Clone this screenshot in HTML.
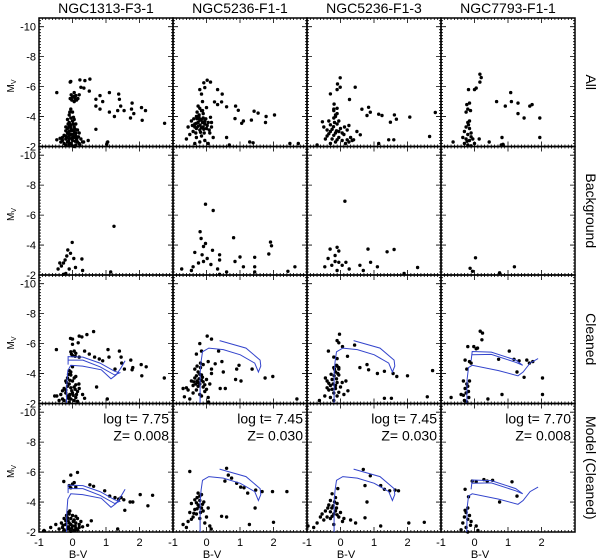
<!DOCTYPE html>
<html><head><meta charset="utf-8"><style>
html,body{margin:0;padding:0;background:#fff;}
svg{display:block;font-family:"Liberation Sans",sans-serif;}
</style></head><body>
<svg id="chart" width="600" height="559" viewBox="0 0 600 559" xmlns="http://www.w3.org/2000/svg"></svg>
<script>
const columnTitles = ["NGC1313-F3-1","NGC5236-F1-1","NGC5236-F1-3","NGC7793-F1-1"];
const rowLabels = ["All","Background","Cleaned","Model (Cleaned)"];
const xTicks = [-1,0,1,2];
const yTicks = [-10,-8,-6,-4,-2];
const modelAges = ["7.75","7.45","7.45","7.70"];
const modelZ = ["0.008","0.030","0.030","0.008"];

// Row 1: All
const all0 = [[-0.1,-2.1],[-0.05,-2.2],[-0.15,-2.3],[0,-2.4],[-0.1,-2.5],[0.05,-2.6],[-0.2,-2.7],[-0.05,-2.8],[0.1,-2.9],[-0.1,-3.0],[0,-3.1],[-0.15,-3.2],[0.05,-3.3],[-0.05,-3.4],[-0.1,-3.6],[0,-3.7],[-0.05,-3.9],[-0.1,-4.1],[0,-4.3],[-0.05,-4.5],[-0.1,-2.2],[0.15,-2.3],[0.2,-2.2],[0.25,-2.5],[-0.3,-2.4],[-0.25,-2.2],[-0.35,-2.3],[0.3,-2.3],[0.1,-2.1],[-0.2,-2.1],[0,-2.05],[0.05,-3.0],[-0.15,-2.9],[0.1,-3.5],[-0.2,-3.3],[0,-2.6],[-0.1,-2.7],[0.1,-2.7],[0.15,-3.1],[-0.05,-3.2],[0.05,-2.0],[-0.2,-2.5],[0.12,-2.45],[-0.08,-3.5],[-0.15,-3.8],[0.05,-3.8],[-0.47,-2.45],[-0.37,-2.55],[0.33,-2.3],[0.47,-2.4],
[-0.12,-2.35],[-0.02,-2.55],[0.08,-2.35],[-0.18,-2.6],[0.02,-2.8],[-0.12,-2.85],[0.13,-2.55],[-0.25,-2.75],[0.18,-2.65],[-0.03,-3.05],[-0.2,-3.05],[0.08,-3.15],[-0.1,-3.35],[0.02,-3.5],[-0.13,-3.5],[0.03,-3.95],[-0.08,-4.3],[0.2,-2.9],[-0.3,-2.6],[0.22,-2.1],
[-0.07,-6.3],[0.22,-6.45],[0.52,-6.5],[0.37,-6.4],[0.25,-5.95],[0.34,-5.9],[0.5,-5.7],[-0.07,-5.2],[0,-5.3],[0.05,-5.0],[0.1,-5.4],[0.16,-5.2],[0.05,-5.35],[-0.02,-5.1],[0.12,-5.1],[-0.47,-5.6],[-0.05,-6.35],[0.05,-5.6],[0.2,-5.45],[0.08,-5.2],[-0.04,-5.45],
[0.82,-5.4],[0.7,-5.15],[0.9,-5.0],[1.1,-5.6],[1.38,-5.5],[1.4,-5.15],[0.7,-4.7],[0.82,-4.5],[1.1,-4.3],[1.25,-4.0],[1.35,-4.4],[1.44,-4.7],[1.54,-4.4],[1.78,-4.9],[1.76,-4.5],[1.83,-4.2],[1.73,-3.9],[2.06,-4.6],[2.18,-4.4],[2.08,-3.75],[2.75,-3.55],[0.7,-3.15],[1.05,-2.3],[1.02,-2.15]];
const all1 = [[-0.19,-3.43],[-0.1,-3.3],[-0.25,-3.6],[-0.3,-3.2],[-0.15,-3.8],[-0.05,-3.5],[-0.2,-3.1],[-0.35,-3.5],[-0.1,-3.9],[-0.22,-4.1],[-0.15,-4.4],[-0.25,-4.7],[-0.12,-5.0],[0,-3.2],[0.05,-3.6],[-0.4,-3.0],[-0.5,-2.8],[-0.3,-2.6],[-0.15,-2.7],[0.1,-2.9],[0.15,-3.3],[-0.45,-3.7],[-0.55,-3.3],[-0.05,-2.4],[0.05,-2.2],[-0.2,-2.3],[-0.6,-2.5],[0.2,-2.6],[-0.1,-4.2],[0,-4.6],[-0.3,-4.0],[-0.35,-2.2],[0.12,-3.95],[-0.07,-2.9],[-0.28,-3.85],
[-0.15,-3.25],[-0.25,-3.35],[-0.12,-3.6],[-0.3,-3.55],[-0.05,-3.7],[-0.2,-3.75],[-0.35,-3.3],[-0.08,-3.15],[0.02,-3.4],[-0.18,-2.95],[-0.38,-3.85],[-0.22,-3.95],[0.08,-3.1],[-0.42,-3.4],[-0.12,-4.4],[-0.28,-4.3],[-0.2,-4.55],[-0.02,-3.85],[-0.32,-2.9],[0.15,-3.6],
[0.02,-6.43],[0.12,-6.3],[-0.08,-6.25],[-0.05,-5.93],[-0.2,-5.8],[-0.15,-5.5],[0.33,-5.8],[0.47,-5.5],[0.24,-4.98],[0.33,-4.8],[0.45,-4.98],[0.6,-4.65],[0.87,-4.7],[0.95,-4.42],[0.85,-3.86],[1.1,-3.7],[1.05,-3.55],[1.34,-3.76],[1.42,-4.36],[1.54,-4.23],[1.78,-4.0],[2.03,-4.1],[1.76,-3.6],[2.49,-2.2],[2.74,-2.2],[0.68,-2.1],[0.6,-2.6],[1.29,-2.3],[1.39,-2.25]];
const all2 = [[-0.21,-3.32],[-0.3,-3.0],[-0.1,-3.5],[-0.35,-3.7],[-0.15,-2.9],[0,-3.2],[-0.4,-2.7],[-0.25,-2.5],[0.1,-2.8],[0.2,-3.1],[-0.05,-2.6],[-0.5,-3.3],[-0.54,-3.65],[-0.45,-2.5],[0.05,-2.4],[0.3,-2.6],[-0.2,-3.9],[-0.1,-4.2],[-0.2,-4.5],[-0.15,-2.3],[0.15,-2.2],[-0.3,-2.2],[-0.7,-2.1],[0.25,-3.4],[-0.05,-3.7],
[-0.25,-3.15],[-0.12,-3.05],[-0.3,-3.45],[-0.18,-3.6],[-0.05,-3.0],[-0.35,-2.85],[-0.2,-2.75],[0.05,-2.9],[-0.1,-2.45],[0.12,-3.3],[-0.4,-3.1],[-0.15,-4.0],[0.35,-2.4],[0.2,-2.45],
[-0.01,-6.59],[-0.09,-6.17],[-0.01,-5.96],[-0.1,-5.8],[-0.3,-5.51],[0.44,-5.96],[0.27,-5.14],[-0.19,-4.83],[-0.2,-4.4],[-0.1,-4.55],[-0.15,-4.1],[0.64,-4.49],[0.84,-4.62],[0.89,-4.29],[0.79,-4.07],[1.14,-4.16],[1.24,-4.07],[1.49,-3.62],[1.61,-4.11],[1.67,-3.82],[2.07,-3.96],[2.83,-4.27],[2.66,-2.67],[1.44,-2.45],[1.59,-2.45],[1.14,-2.2],[0.59,-2.78],[0.49,-3.0],[0.39,-2.45],[0.25,-2.3]];
const all3 = [[0.16,-6.83],[0.2,-6.6],[0.16,-6.3],[0,-5.8],[0.05,-5.9],[-0.18,-5.8],[-0.23,-4.8],[-0.15,-4.9],[-0.2,-4.5],[-0.25,-4.3],[-0.12,-4.4],[-0.2,-3.6],[-0.25,-3.3],[-0.15,-3.2],[-0.3,-3.0],[-0.2,-2.8],[-0.1,-2.9],[-0.35,-2.6],[-0.25,-2.5],[-0.15,-2.4],[-0.05,-2.5],[-0.3,-2.2],[-0.2,-2.1],[0,-2.2],[-0.1,-2.05],[-0.15,-3.7],[-0.64,-2.3],[-0.18,-3.45],[-0.1,-2.65],[-0.22,-2.35],[0.66,-5.0],[0.92,-4.7],[1.08,-5.6],[1.1,-5.0],[1.3,-4.9],[1.3,-4.2],[1.48,-3.9],[1.65,-4.7],[1.72,-4.8],[1.95,-3.9],[1.95,-2.6],[0.14,-2.5],[0.44,-2.3],[0.82,-2.6],[0.8,-2.1],[0.85,-2.15]];

// Row 2: Background
const bg0 = [[-0.43,-2.4],[-0.33,-2.6],[-0.27,-2.8],[-0.22,-3.0],[-0.17,-3.27],[-0.14,-3.67],[-0.01,-4.18],[-0.06,-3.45],[0.04,-3.1],[0.09,-2.5],[0.28,-3.07],[0.3,-2.3],[-0.27,-2.05],[1.24,-5.25],[1.14,-2.2],[-0.38,-2.8],[-0.1,-2.4],[-0.2,-2.1]];
const bg1 = [[-0.03,-6.73],[0.2,-6.31],[-0.19,-4.89],[-0.16,-4.44],[-0.35,-3.51],[-0.09,-3.9],[-0.03,-4.1],[-0.13,-3.35],[0.02,-3.1],[-0.09,-2.9],[-0.24,-2.8],[0.18,-3.65],[0.13,-2.7],[0.39,-3.0],[0.39,-3.35],[0.33,-2.4],[-0.4,-2.55],[-0.45,-2.3],[-0.74,-2.4],[0.81,-4.49],[1.44,-3.18],[1.0,-3.2],[0.85,-2.9],[1.1,-2.55],[1.44,-2.55],[1.91,-4.2],[1.94,-3.95],[1.86,-3.4],[2.64,-2.55],[2.43,-2.25],[1.44,-2.2],[0.6,-2.2],[0.39,-2.05]];
const bg2 = [[0.13,-6.93],[-0.31,-3.73],[-0.1,-3.85],[-0.05,-3.6],[-0.16,-3.3],[-0.37,-3.1],[-0.26,-2.65],[-0.47,-2.55],[-0.05,-2.85],[0.05,-2.65],[0.16,-2.85],[-0.1,-2.3],[0.26,-2.4],[-0.16,-2.9],[0.82,-3.73],[0.9,-2.85],[1.6,-3.7],[1.39,-3.55],[1.1,-2.55],[2.3,-2.5],[0.58,-2.65],[0.68,-2.3],[1.9,-2.1]];
const bg3 = [[0.03,-3.15],[-0.13,-2.45],[-0.06,-2.25],[1.19,-2.55],[0.75,-2.15]];

// Row 3: Cleaned
const cl0 = [[-0.1,-2.1],[-0.05,-2.3],[-0.15,-2.5],[0,-2.7],[-0.2,-2.9],[0.05,-3.1],[-0.1,-3.3],[0,-3.5],[-0.15,-3.7],[-0.05,-3.9],[-0.1,-4.2],[0,-4.45],[-0.3,-2.3],[-0.35,-2.6],[-0.25,-3.0],[0.1,-2.4],[0.15,-2.8],[0.19,-3.3],[-0.4,-2.2],[-0.53,-2.5],[0.05,-2.2],[-0.2,-3.5],[0.1,-3.8],[-0.08,-2.6],[0.3,-2.6],[0.36,-2.35],[-0.47,-2.5],
[-0.12,-2.35],[0.02,-2.55],[-0.2,-2.7],[0.08,-2.95],[-0.05,-3.05],[-0.15,-3.15],[0.1,-3.25],[-0.08,-3.55],[0.05,-3.7],[-0.12,-3.95],[-0.25,-2.2],[0.15,-2.15],[-0.02,-2.85],[-0.1,-2.45],[0.12,-2.6],[-0.3,-2.85],[-0.05,-4.1],[0.2,-3.0],[-0.18,-3.4],
[-0.06,-6.35],[0,-6.3],[0.2,-6.5],[0.28,-6.45],[0.43,-6.6],[0.63,-6.8],[0.17,-6.05],[0,-5.95],[-0.05,-5.45],[0,-5.2],[0.1,-5.35],[0.2,-5.1],[0.05,-5.5],[-0.48,-5.6],[0.36,-5.5],[0.5,-5.3],[0.66,-5.1],[0.8,-4.97],[0.9,-4.85],[1.06,-5.6],[1.09,-5.1],[1.27,-4.3],[1.4,-5.5],[1.45,-5.1],[1.47,-4.7],[1.55,-4.3],[1.74,-4.9],[1.8,-4.4],[1.78,-4.25],[2.05,-4.6],[2.2,-4.45],[2.07,-3.85],[2.74,-3.7],[0.72,-3.1],[1.04,-2.3],[0.08,-5.15],[-0.03,-5.3]];
const cl1 = [[-0.28,-3.5],[-0.2,-3.3],[-0.35,-3.7],[-0.15,-3.9],[-0.4,-3.2],[-0.1,-3.1],[-0.3,-2.9],[-0.45,-3.5],[-0.25,-4.1],[-0.18,-4.4],[0,-3.6],[0.1,-3.3],[-0.05,-2.8],[-0.2,-2.6],[-0.55,-2.9],[-0.66,-2.45],[-0.5,-2.3],[0.05,-2.4],[0.06,-2.1],[-0.7,-3.0],[-0.6,-3.05],[0.15,-4.0],[-0.1,-4.6],[-0.35,-4.3],
[-0.25,-3.4],[-0.15,-3.55],[-0.32,-3.3],[-0.22,-3.65],[-0.1,-3.45],[-0.3,-3.85],[-0.2,-3.95],[-0.38,-3.45],[-0.12,-3.75],[-0.25,-3.15],[-0.05,-3.25],[-0.28,-4.5],[-0.18,-4.7],[-0.4,-2.7],[-0.15,-2.5],[0.0,-2.95],
[0.02,-6.5],[0.15,-6.3],[-0.2,-6.0],[-0.3,-5.3],[-0.15,-5.5],[0.36,-5.5],[0.05,-4.8],[0.26,-4.65],[0.15,-4.3],[0.46,-4.8],[0.5,-4.1],[0.97,-4.55],[0.9,-4.3],[0.41,-3.0],[0.56,-3.0],[0.87,-3.6],[1.03,-3.5],[1.36,-4.3],[1.75,-3.7],[1.98,-3.8],[2.7,-2.3]];
const cl2 = [[-0.19,-3.85],[-0.25,-3.6],[-0.1,-3.4],[-0.3,-3.2],[-0.15,-3.0],[-0.4,-3.5],[-0.05,-3.9],[-0.35,-2.9],[-0.2,-2.7],[0,-3.1],[-0.45,-3.7],[-0.1,-2.5],[-0.3,-2.4],[0.1,-2.6],[-0.15,-4.1],[-0.05,-4.3],[0.16,-3.5],[0.22,-2.85],[-0.47,-2.5],[-0.63,-2.2],[-0.2,-2.2],
[-0.22,-3.3],[-0.12,-3.65],[-0.28,-3.95],[-0.18,-4.3],[-0.08,-4.0],[-0.35,-3.35],[-0.25,-2.95],[-0.05,-2.75],[-0.15,-3.2],[-0.4,-3.05],[-0.12,-4.55],[0.05,-3.4],
[-0.03,-6.63],[-0.1,-6.2],[-0.05,-6.05],[-0.36,-5.5],[-0.2,-5.1],[-0.1,-5.0],[-0.1,-4.5],[-0.2,-4.4],[-0.05,-4.4],[0.06,-5.8],[0.42,-5.9],[0.21,-5.15],[0.58,-4.4],[0.79,-4.6],[0.84,-4.25],[1.1,-4.0],[1.31,-4.15],[1.57,-4.0],[1.68,-3.8],[2.0,-3.85],[1.52,-2.35],[1.31,-2.35],[2.59,-2.45],[2.75,-4.2]];
const cl3 = [[0.17,-6.83],[0.24,-6.7],[0.22,-6.25],[0.09,-5.7],[-0.02,-5.8],[-0.2,-5.8],[-0.28,-4.9],[-0.15,-4.8],[-0.23,-4.3],[-0.33,-3.5],[-0.23,-3.3],[-0.28,-3.0],[-0.33,-2.55],[-0.17,-2.4],[-0.4,-2.6],[-0.23,-2.1],[-0.7,-2.4],[-0.1,-4.7],[-0.18,-2.8],[-0.3,-2.2],[-0.2,-3.15],[-0.25,-2.7],[-0.15,-3.5],[0.05,-5.65],
[0.72,-4.95],[1.04,-5.5],[1.18,-4.95],[1.33,-4.85],[1.56,-4.9],[1.27,-4.1],[1.48,-3.75],[1.64,-4.7],[1.74,-4.8],[2.03,-3.7],[2.03,-2.6],[0.82,-2.6],[0.4,-2.3]];

// Row 4: Model (Cleaned)
const md0 = [[-0.13,-2.75],[-0.2,-2.5],[-0.05,-2.9],[-0.1,-3.2],[0,-2.4],[-0.25,-2.9],[0.1,-2.6],[-0.15,-2.2],[0.05,-2.1],[-0.3,-2.3],[0.15,-2.9],[-0.08,-3.4],[0.2,-2.3],[-0.18,-3.1],[0.25,-2.7],[-0.05,-2.05],[0.1,-3.05],[-0.33,-2.6],[-0.12,-2.35],[0.3,-2.35],[-0.85,-2.1],[-0.65,-2.3],[-0.5,-2.5],[-0.4,-2.2],[0.56,-2.75],[0.45,-2.45],[1.35,-2.2],
[-0.1,-2.6],[0.02,-2.7],[-0.2,-2.75],[0.08,-2.4],[-0.05,-2.5],[-0.15,-2.95],[0.0,-3.1],[-0.1,-2.2],[0.15,-2.15],[-0.25,-2.15],[0.2,-2.5],[-0.02,-2.25],[-0.12,-3.3],[0.05,-2.8],[-0.28,-2.45],[0.1,-2.25],
[0.15,-5.98],[-0.05,-5.8],[-0.26,-5.37],[-0.1,-5.1],[0,-5.2],[0.1,-5.0],[-0.05,-4.95],[0.05,-5.3],[0.63,-5.05],[0.52,-5.15],[0.96,-4.75],[1.11,-4.4],[1.27,-4.3],[1.38,-4.2],[1.45,-4.3],[1.53,-4.15],[1.56,-3.45],[1.72,-4.0],[1.8,-4.0],[2.02,-4.5],[2.39,-4.45],[2.25,-3.75]];
const md1 = [[-0.28,-4.3],[-0.2,-4.1],[-0.25,-3.8],[-0.15,-3.6],[-0.35,-3.5],[-0.3,-3.2],[-0.1,-3.4],[-0.4,-3.0],[-0.5,-3.3],[-0.2,-2.9],[-0.55,-2.7],[-0.7,-2.5],[-0.6,-2.3],[0,-3.0],[-0.05,-2.6],[0.1,-2.4],[-0.25,-4.6],[-0.15,-4.5],[0.14,-2.2],[-0.45,-3.9],
[-0.22,-3.7],[-0.3,-3.95],[-0.12,-3.85],[-0.38,-3.25],[-0.18,-3.3],[-0.28,-3.55],[-0.08,-4.0],[-0.35,-4.15],[-0.2,-4.4],[0.05,-3.6],[-0.45,-2.85],
[-0.5,-6.04],[0.6,-6.25],[0.65,-5.8],[0.75,-5.6],[0.55,-5.4],[0.9,-5.25],[1.02,-5.0],[1.12,-4.95],[1.23,-4.6],[1.47,-4.8],[1.66,-4.7],[1.97,-4.7],[2.4,-4.7],[1.45,-3.6],[1.28,-2.5],[2.0,-2.65],[0.45,-3.05],[0.6,-3.0]];
const md2 = [[-0.26,-3.6],[-0.15,-3.4],[-0.35,-3.8],[-0.2,-3.2],[-0.4,-3.0],[-0.1,-3.9],[-0.3,-2.9],[-0.5,-2.8],[-0.6,-3.0],[-0.7,-2.6],[-0.97,-2.4],[-0.8,-2.3],[-0.05,-3.0],[0.06,-2.7],[-0.2,-2.5],[-0.45,-3.4],[-0.3,-4.1],[-0.25,-4.55],[-0.08,-4.9],[0.1,-2.9],[0.3,-2.8],[0.45,-2.6],
[-0.22,-3.75],[-0.12,-3.6],[-0.3,-3.35],[-0.18,-4.0],[-0.38,-3.6],[-0.1,-3.15],[-0.25,-3.05],[-0.15,-4.3],[0.0,-3.3],[-0.55,-3.2],
[0.68,-6.18],[0.89,-5.75],[0.73,-5.1],[1.2,-5.1],[1.31,-4.85],[1.47,-4.75],[1.63,-4.8],[1.73,-4.75],[0.79,-4.0],[1.2,-2.4],[2.04,-2.6],[2.5,-2.65],[0.73,-2.95]];
const md3 = [[-0.07,-5.4],[0.05,-5.35],[0.28,-5.5],[0.38,-5.4],[0.54,-5.45],[1.12,-5.35],[0.75,-4.0],[1.27,-4.4],[-0.28,-4.85],[-0.18,-4.35],[-0.2,-3.6],[-0.25,-3.3],[-0.3,-3.0],[-0.15,-3.1],[-0.35,-2.6],[-0.1,-2.7],[-0.25,-2.3],[0.05,-2.4],[-0.4,-2.15],[0.1,-2.1],[-0.2,-2.0],[-0.2,-2.85],[-0.12,-2.45],[-0.28,-3.45]];

// Isochrones (bv, Mv)
const iso775a = [[-0.18,-2],[-0.17,-3.3],[-0.14,-4.2],[-0.05,-4.55],[0.3,-4.5],[0.86,-4.25],[1.15,-3.65],[1.3,-3.9],[1.44,-4.35],[1.57,-4.85]];
const iso775b = [[-0.13,-4.6],[-0.13,-5.13],[0.31,-5.1],[0.82,-4.7],[1.26,-4.15],[1.41,-4.05],[1.26,-3.9],[0.82,-4.45],[0.31,-4.9],[-0.13,-4.9]];
const iso745a = [[-0.19,-2],[-0.19,-4.0],[-0.16,-4.8],[-0.12,-5.45],[0.07,-5.7],[0.5,-5.6],[1.01,-5.25],[1.44,-4.7],[1.55,-4.1],[1.62,-4.5],[1.6,-4.9],[1.18,-5.7],[0.39,-6.2]];
const iso770a = [[-0.23,-2],[-0.22,-3.6],[-0.18,-4.4],[-0.07,-4.55],[0.72,-4.2],[1.3,-3.85],[1.45,-4.1],[1.66,-4.7],[1.9,-5.0]];
const iso770b = [[-0.1,-4.85],[-0.07,-5.47],[0.5,-5.43],[1.23,-4.9],[1.44,-4.55],[1.23,-4.75],[0.5,-5.28],[-0.07,-5.25]];

const rows = [[all0,all1,all2,all3],[bg0,bg1,bg2,bg3],[cl0,cl1,cl2,cl3],[md0,md1,md2,md3]];
const isoByCol = [[iso775a,iso775b],[iso745a],[iso745a],[iso770a,iso770b]];

const NS="http://www.w3.org/2000/svg";
const svg=document.getElementById('chart');
const L=39, T=18, PW=134, PH=128.5;
const XMIN=-1, XMAX=3, YBOT=-2, YTOP=-10.58;
function xs(c,v){return L+c*PW+(v-XMIN)/(XMAX-XMIN)*PW;}
function ys(r,v){return T+r*PH+PH-(v-YBOT)/(YTOP-YBOT)*PH;}
function mk(tag,attrs){const e=document.createElementNS(NS,tag);for(const k in attrs)e.setAttribute(k,attrs[k]);return e;}

for(let r=0;r<4;r++){
  for(let c=0;c<4;c++){
    const g=mk('g',{});
    
    
    svg.appendChild(g);
    const x0=L+c*PW, y0=T+r*PH;
    let d='';
    for(let v=-1;v<=3.0001;v+=0.1){const x=xs(c,v);d+=`M${x},${y0+PH}v-2M${x},${y0}v2`;}
    for(let v=-2;v>=-10.58;v-=0.2){const y=ys(r,v);d+=`M${x0},${y}h2M${x0+PW},${y}h-2`;}
    for(const v of xTicks.concat([3])){const x=xs(c,v);d+=`M${x},${y0+PH}v-5M${x},${y0}v5`;}
    for(const v of yTicks){const y=ys(r,v);d+=`M${x0},${y}h5M${x0+PW},${y}h-5`;}
    const tk=mk('path',{d:d,stroke:'#000','stroke-width':0.8,fill:'none'});
    
    
    g.appendChild(tk);
    const fr=mk('rect',{x:x0,y:y0,width:PW,height:PH,fill:'none',stroke:'#000','stroke-width':1.5});
    
    
    g.appendChild(fr);
    for(const p of rows[r][c]){
      if(p[1]>YBOT+0.05||p[1]<YTOP) continue;
      const cc=mk('circle',{cx:xs(c,p[0]).toFixed(1),cy:ys(r,p[1]).toFixed(1),r:1.7,fill:'#000'});
      
      
      g.appendChild(cc);
    }
    if(r>=2){
      for(const iso of isoByCol[c]){
        const pts=iso.map(p=>xs(c,p[0]).toFixed(1)+','+ys(r,p[1]).toFixed(1)).join(' ');
        const pl=mk('polyline',{points:pts,fill:'none',stroke:'#3344cc','stroke-width':1});
        
        
        g.appendChild(pl);
      }
    }
    if(r===3){
      const t1=mk('text',{x:x0+PW-4,y:y0+20,'text-anchor':'end','font-size':14});
      t1.textContent='log t= '+modelAges[c];
      
      
      g.appendChild(t1);
      const t2=mk('text',{x:x0+PW-4,y:y0+37,'text-anchor':'end','font-size':14});
      t2.textContent='Z= '+modelZ[c];
      
      
      g.appendChild(t2);
    }
  }
  for(const v of yTicks){
    const t=mk('text',{x:L-3,y:ys(r,v)+4,'text-anchor':'end','font-size':11});
    t.textContent=String(v);
    
    
    svg.appendChild(t);
  }
  const yl=mk('text',{x:0,y:0,'font-size':10,transform:`translate(14,${T+r*PH+68}) rotate(-90)`,'text-anchor':'middle'});
  yl.innerHTML='M<tspan font-size="7" dy="2">V</tspan>';
  
  
  svg.appendChild(yl);
  const rl=mk('text',{x:0,y:0,'font-size':14,transform:`translate(586,${T+r*PH+PH/2}) rotate(90)`,'text-anchor':'middle'});
  rl.textContent=rowLabels[r];
  
  
  svg.appendChild(rl);
}
for(let c=0;c<4;c++){
  const t=mk('text',{x:L+c*PW+PW/2,y:13,'text-anchor':'middle','font-size':14});
  t.textContent=columnTitles[c];
  
  
  svg.appendChild(t);
  for(const v of xTicks){
    const tl=mk('text',{x:xs(c,v),y:T+4*PH+14,'text-anchor':'middle','font-size':11});
    tl.textContent=String(v);
    
    
    svg.appendChild(tl);
  }
  const xt=mk('text',{x:L+c*PW+PW/2-28,y:T+4*PH+26,'text-anchor':'middle','font-size':11});
  xt.textContent='B-V';
  
  
  svg.appendChild(xt);
}
</script>
</body></html>
